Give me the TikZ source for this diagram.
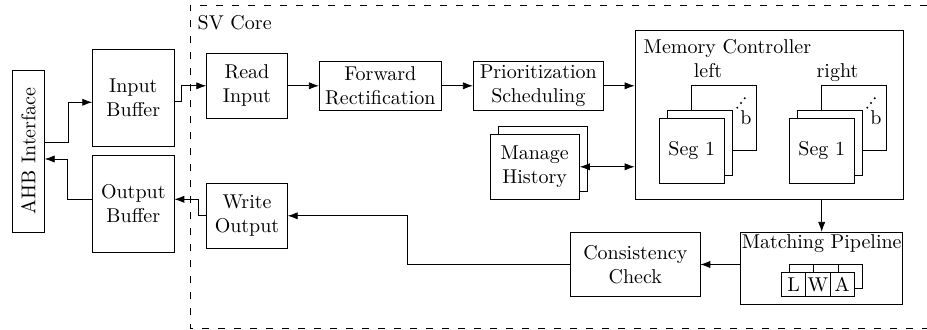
\documentclass[tikz,border=0pt]{standalone}
\usetikzlibrary{arrows.meta,calc}
\tikzset{
  blk/.style={draw, fill=white, inner sep=0pt, align=center},
  card/.style={blk, minimum width=32.5pt, minimum height=32.5pt},
  cell/.style={blk, minimum width=12.15pt, minimum height=12pt},
  arr/.style={-{Latex[length=5pt,width=3.6pt]}},
  darr/.style={{Latex[length=5pt,width=3.6pt]}-{Latex[length=5pt,width=3.6pt]}},
  coreframe/.style={dash pattern=on 3.5pt off 4.5pt},
  lbl/.style={inner sep=0pt},
}
\begin{document}
\begin{tikzpicture}[x=0.5pt,y=-0.5pt]
\useasboundingbox (0,0) rectangle (927,330);

% dashed frame of the SV core
\draw[coreframe] (927,5) -- (190,5) -- (190,328) -- (927,328);
\node[lbl, anchor=base west] (svcore) at (197.3,30) {SV Core};

% bus side (the AHB box is turned, so its south anchor faces right)
\node[blk, rotate=90, minimum width=81pt, minimum height=16pt] (ahb) at (28.3,151) {AHB Interface};
\node[blk, minimum width=40.65pt, minimum height=48.7pt] (inbuf) at (133.3,98) {Input\\Buffer};
\node[blk, minimum width=40.65pt, minimum height=48.7pt] (outbuf) at (133.3,203.7) {Output\\Buffer};

% processing chain
\node[blk, minimum width=40.3pt, minimum height=32.5pt] (read) at (247,85.8) {Read\\Input};
\node[blk, minimum width=61pt, minimum height=24.15pt] (fwd) at (380.3,85.8) {Forward\\Rectification};
\node[blk, minimum width=65pt, minimum height=24.15pt] (prio) at (538.3,85.8) {Prioritization\\Scheduling};
\node[blk, minimum width=40.3pt, minimum height=32.5pt] (write) at (247,215.8) {Write\\Output};

% history (stacked)
\node[blk, minimum width=44.65pt, minimum height=32.5pt] (histb) at (543,159) {};
\node[blk, minimum width=44.65pt, minimum height=32.5pt] (hist) at (534.7,166.8) {Manage\\History};

% memory controller
\node[blk, minimum width=134.25pt, minimum height=84.65pt] (memctl) at (769.3,114.7) {};
\node[lbl, anchor=base west] (memtitle) at (643.3,53.3) {Memory Controller};
\node[lbl, anchor=base] (lleft) at (708,77.3) {left};
\node[lbl, anchor=base] (lright) at (837.5,77.3) {right};

% left segment stack
\node[card] (lback) at (724.2,118.3) {};
\node[lbl, anchor=base] (lb) at (746,124.3) {b};
\node[card] (lmid) at (700.2,142.5) {};
\node[card] (lseg) at (691.8,150.8) {Seg 1};
% right segment stack
\node[card] (rback) at (854.2,118.3) {};
\node[lbl, anchor=base] (rb) at (876,124.3) {b};
\node[card] (rmid) at (830.2,142.5) {};
\node[card] (rseg) at (821.8,150.8) {Seg 1};
% ellipsis dots on the back cards
\foreach \dx in {0,130}{
  \fill (737.3+\dx,107.7) circle (0.55pt);
  \fill (741+\dx,103) circle (0.55pt);
  \fill (744.7+\dx,98.3) circle (0.55pt);
}

% matching pipeline
\node[blk, minimum width=81pt, minimum height=36pt] (match) at (821.7,268.3) {};
\node[lbl, anchor=base] (mtitle) at (821.7,248.3) {Matching Pipeline};
\node[cell] (lb2) at (801.5,276.7) {};
\node[cell] (wb2) at (825.8,276.7) {};
\node[cell] (ab2) at (850.2,276.7) {};
\node[cell] (cl) at (793.5,284.7) {L};
\node[cell] (cw) at (817.8,284.7) {W};
\node[cell] (ca) at (842.2,284.7) {A};

\node[blk, minimum width=64.65pt, minimum height=32.2pt] (cons) at (635.3,264.5) {Consistency\\Check};

% connectors
\draw[arr] ([yshift=4.15pt]ahb.south) -- ++(24,0) |- ([yshift=-2.15pt]inbuf.west);
\draw[arr] ([yshift=2.2pt]outbuf.west) -- ++(-24.4,0) |- ([yshift=-4pt]ahb.south);
\draw[arr] ([yshift=-1.85pt]inbuf.east) -- ++(7,0) |- (read.west);
\draw[arr] (write.west) -- ++(-8.4,0) |- ([yshift=2.2pt]outbuf.east);
\draw[arr] (read.east) -- (fwd.west);
\draw[arr] (fwd.east) -- (prio.west);
\draw[arr] (prio.east) -- (prio.east -| memctl.west);
\draw[darr] (hist.east) -- (hist.east -| memctl.west);
\draw[arr] (match.north |- memctl.south) -- (match.north);
\draw[arr] (cons.east -| match.west) -- (cons.east);
\draw[arr] (cons.west) -- ++(-163,0) |- (write.east);
\end{tikzpicture}
\end{document}
